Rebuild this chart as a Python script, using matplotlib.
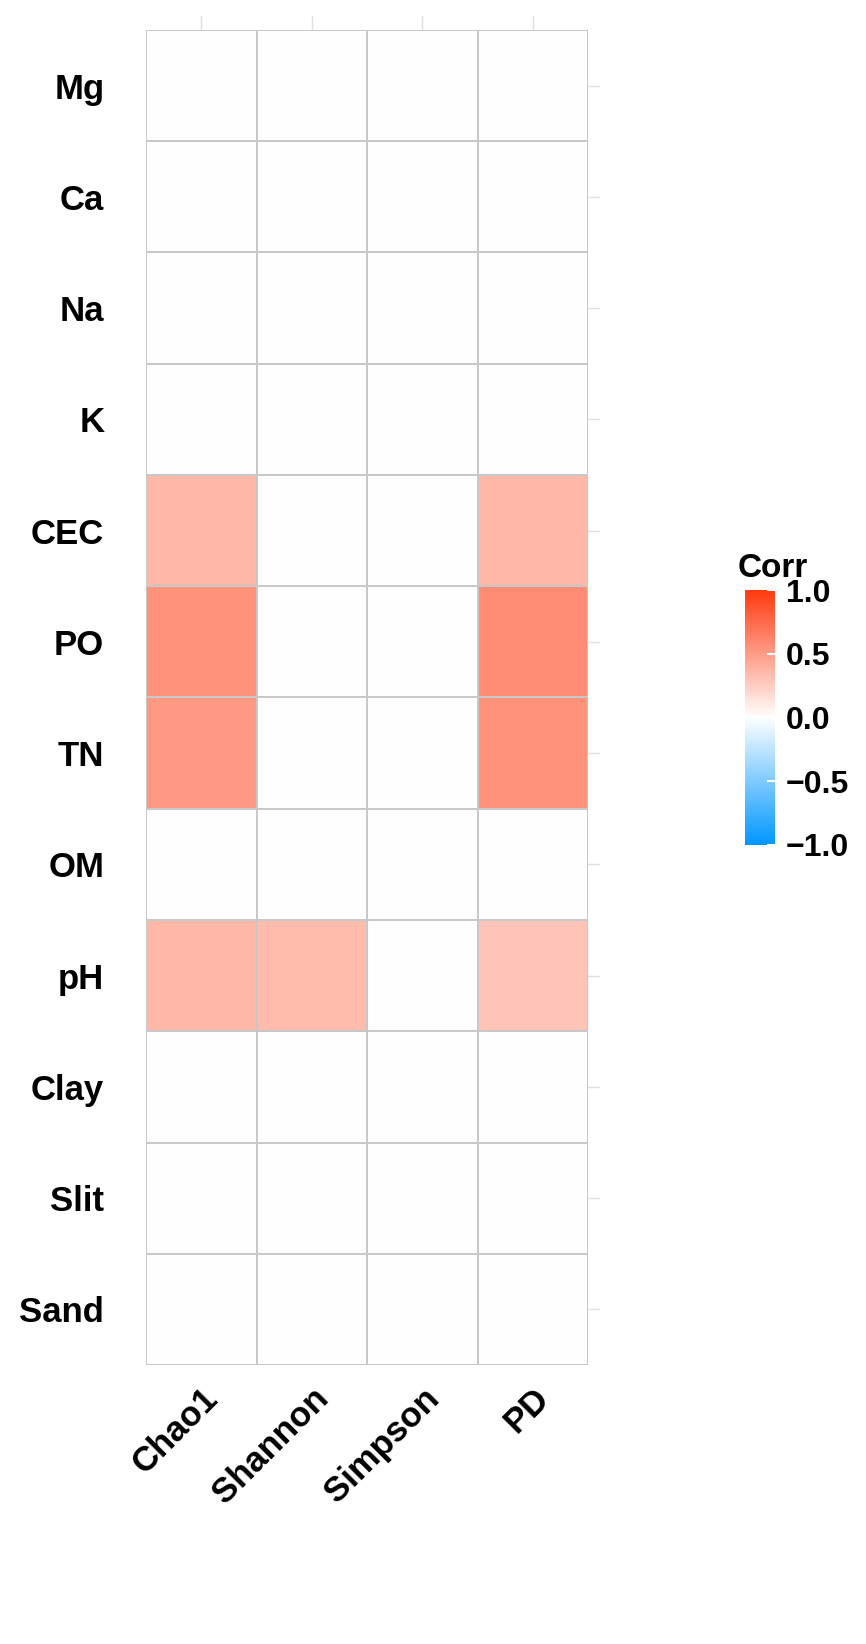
import numpy as np
import matplotlib.pyplot as plt
from matplotlib.colors import LinearSegmentedColormap

rows = ['Mg', 'Ca', 'Na', 'K', 'CEC', 'PO', 'TN', 'OM', 'pH', 'Clay', 'Slit', 'Sand']
cols = ['Chao1', 'Shannon', 'Simpson', 'PD']
chao1 = [0, 0, 0, 0, 0.36, 0.55, 0.52, 0, 0.36, 0, 0, 0]
shannon = [0, 0, 0, 0, 0, 0, 0, 0, 0.34, 0, 0, 0]
simpson = [0] * 12
pd_vals = [0, 0, 0, 0, 0.36, 0.58, 0.55, 0, 0.30, 0, 0, 0]

data = np.array([chao1, shannon, simpson, pd_vals]).T

plt.rcParams['font.family'] = ['Liberation Sans', 'DejaVu Sans']
cmap = LinearSegmentedColormap.from_list('corr', ['#0096FF', '#FFFFFF', '#FF3A10'])

fig = plt.figure(figsize=(8.66, 16.44), dpi=100)
ax = fig.add_axes([146/866, 1 - 1365/1644, 442/866, 1335/1644])
# grid lines poking out past the tiles, like ggplot
for i in range(4):
    ax.plot([i, i], [-0.5, -0.63], color='#e0e0e0', lw=1, clip_on=False, zorder=0)
for j in range(12):
    ax.plot([3.5, 3.6], [j, j], color='#e0e0e0', lw=1, clip_on=False, zorder=0)
mesh = ax.pcolormesh(np.arange(5) - 0.5, np.arange(13) - 0.5, data, cmap=cmap,
                     vmin=-1, vmax=1, edgecolor='#c8c8c8', linewidth=1.2)
ax.set_xlim(-0.5, 3.5)
ax.set_ylim(11.5, -0.5)
ax.set_xticks(range(4))
ax.set_xticklabels(cols, rotation=45, ha='right', rotation_mode='anchor',
                   fontsize=25, fontweight='bold')
ax.set_yticks(range(12))
ax.set_yticklabels(rows, fontsize=25, fontweight='bold')
ax.tick_params(axis='y', length=0, pad=30)
ax.tick_params(axis='x', length=0, pad=12)
for s in ax.spines.values():
    s.set_visible(False)

cax = fig.add_axes([745/866, 1 - 845/1644, 30/866, 255/1644])
cb = fig.colorbar(mesh, cax=cax, ticks=[-1, -0.5, 0, 0.5, 1])
cb.outline.set_visible(False)
cb.ax.set_yticklabels(['\u22121.0', '\u22120.5', '0.0', '0.5', '1.0'])
cb.ax.tick_params(labelsize=23, length=6, color='white', width=1.5, direction='in', pad=8)
for t in cb.ax.get_yticklabels():
    t.set_fontweight('bold')
fig.text(738/866, 1 - 568/1644, 'Corr', fontsize=24, fontweight='bold', va='center')

fig.savefig('out.png', dpi=100, facecolor='white')
